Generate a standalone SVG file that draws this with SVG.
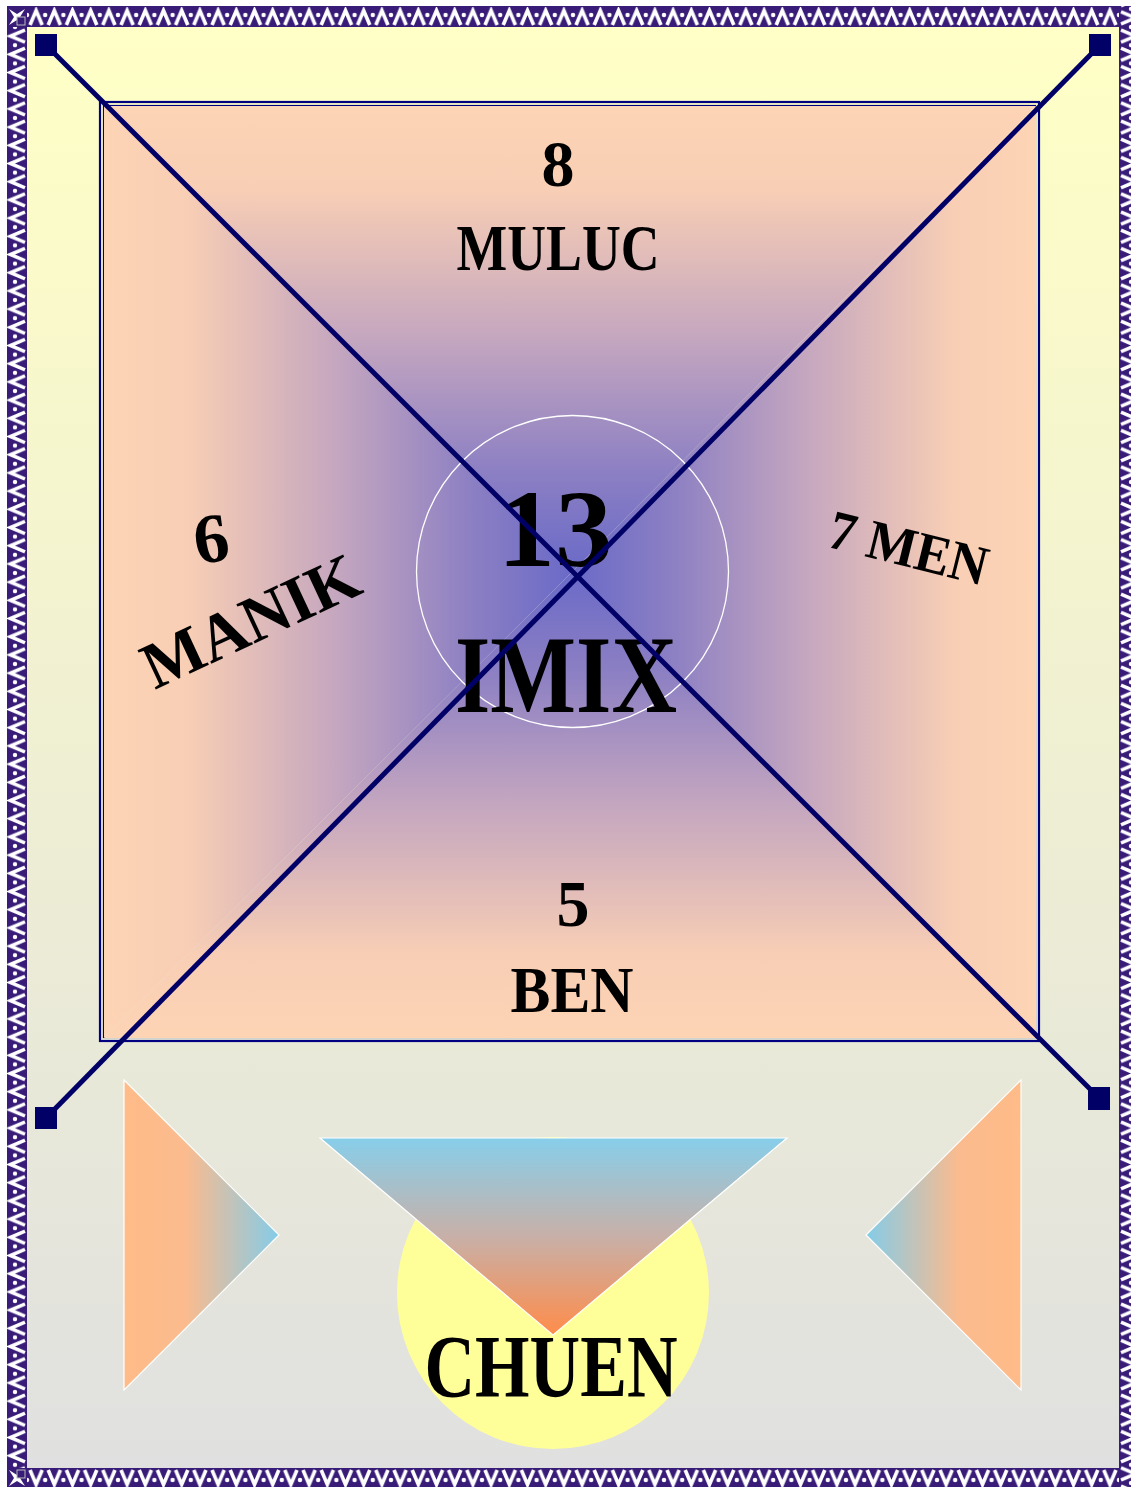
<svg xmlns="http://www.w3.org/2000/svg" width="1131" height="1487" viewBox="0 0 1131 1487">
<defs>
<style>
.t{font-family:"Liberation Serif","DejaVu Serif",serif;font-weight:bold;fill:#000;text-anchor:middle}
.diag{stroke:#000066;stroke-width:5;fill:none}
.end{fill:#000066}
.chev{fill:none;stroke:#fff;stroke-width:3.6;stroke-linejoin:miter}
</style>
<linearGradient id="bg" x1="0" y1="0" x2="0" y2="1">
<stop offset="0" stop-color="#ffffc6"/>
<stop offset="1" stop-color="#e0e0e0"/>
</linearGradient>
<linearGradient id="gTop" gradientUnits="userSpaceOnUse" x1="0" y1="106" x2="0" y2="572">
<stop offset="0" stop-color="#fdd4b4"/>
<stop offset="0.18" stop-color="#f8ceb5"/>
<stop offset="0.5" stop-color="#c4a6bf"/>
<stop offset="0.78" stop-color="#8d80c3"/>
<stop offset="1" stop-color="#6a6ac8"/>
</linearGradient>
<linearGradient id="gBot" gradientUnits="userSpaceOnUse" x1="0" y1="1038" x2="0" y2="572">
<stop offset="0" stop-color="#fdd4b4"/>
<stop offset="0.18" stop-color="#f8ceb5"/>
<stop offset="0.5" stop-color="#c4a6bf"/>
<stop offset="0.78" stop-color="#8d80c3"/>
<stop offset="1" stop-color="#6a6ac8"/>
</linearGradient>
<linearGradient id="gLeft" gradientUnits="userSpaceOnUse" x1="104" y1="0" x2="572" y2="0">
<stop offset="0" stop-color="#fdd4b4"/>
<stop offset="0.18" stop-color="#f8ceb5"/>
<stop offset="0.5" stop-color="#c4a6bf"/>
<stop offset="0.78" stop-color="#8d80c3"/>
<stop offset="1" stop-color="#6a6ac8"/>
</linearGradient>
<linearGradient id="gRight" gradientUnits="userSpaceOnUse" x1="1036" y1="0" x2="572" y2="0">
<stop offset="0" stop-color="#fdd4b4"/>
<stop offset="0.18" stop-color="#f8ceb5"/>
<stop offset="0.5" stop-color="#c4a6bf"/>
<stop offset="0.78" stop-color="#8d80c3"/>
<stop offset="1" stop-color="#6a6ac8"/>
</linearGradient>
<linearGradient id="gInv" x1="0" y1="0" x2="0" y2="1">
<stop offset="0" stop-color="#87ceea"/>
<stop offset="0.5" stop-color="#c8b0a8"/>
<stop offset="1" stop-color="#ff8c4a"/>
</linearGradient>
<linearGradient id="gL" x1="0" y1="0" x2="1" y2="0">
<stop offset="0" stop-color="#ffbb88"/>
<stop offset="0.4" stop-color="#fbbb8e"/>
<stop offset="1" stop-color="#84cce8"/>
</linearGradient>
<linearGradient id="gR" x1="1" y1="0" x2="0" y2="0">
<stop offset="0" stop-color="#ffbb88"/>
<stop offset="0.4" stop-color="#fbbb8e"/>
<stop offset="1" stop-color="#84cce8"/>
</linearGradient>
<pattern id="pTop" patternUnits="userSpaceOnUse" x="27" y="7" width="18.2" height="20">
<rect width="18.2" height="20" fill="#381c78"/>
<polyline class="chev" points="3,18 9.1,3.5 15.2,18"/>
<circle cx="0" cy="8" r="2.2" fill="#fff"/><circle cx="18.2" cy="8" r="2.2" fill="#fff"/>
</pattern>
<pattern id="pBot" patternUnits="userSpaceOnUse" x="27" y="1468" width="18.2" height="20">
<rect width="18.2" height="20" fill="#381c78"/>
<polyline class="chev" points="3,2 9.1,16.5 15.2,2"/>
<circle cx="0" cy="12" r="2.2" fill="#fff"/><circle cx="18.2" cy="12" r="2.2" fill="#fff"/>
</pattern>
<pattern id="pLeft" patternUnits="userSpaceOnUse" x="7" y="27" width="20" height="18.2">
<rect width="20" height="18.2" fill="#381c78"/>
<polyline class="chev" points="18,3 3.5,9.1 18,15.2"/>
<circle cx="8" cy="0" r="2.2" fill="#fff"/><circle cx="8" cy="18.2" r="2.2" fill="#fff"/>
</pattern>
<pattern id="pRight" patternUnits="userSpaceOnUse" x="1119" y="27" width="20" height="18.2">
<rect width="20" height="18.2" fill="#381c78"/>
<polyline class="chev" points="2,3 16.5,9.1 2,15.2"/>
<circle cx="12" cy="0" r="2.2" fill="#fff"/><circle cx="12" cy="18.2" r="2.2" fill="#fff"/>
</pattern>
</defs>

<rect width="1131" height="1487" fill="#fff"/>
<g id="frame">
<rect x="27" y="27" width="1092" height="1441" fill="url(#bg)"/>
<rect x="7" y="6" width="1132" height="21" fill="url(#pTop)"/>
<rect x="7" y="1468" width="1132" height="20" fill="url(#pBot)"/>
<rect x="7" y="6" width="20" height="1482" fill="url(#pLeft)"/>
<rect x="1119" y="6" width="20" height="1482" fill="url(#pRight)"/>
<rect x="7" y="6" width="20" height="21" fill="#381c78"/>
<polygon points="9,9 17,14 25,9 20,17 25,25 17,20 9,25 14,17" fill="#fff"/>
<rect x="17" y="17" width="8" height="8" fill="#381c78" stroke="#bbb" stroke-width="1"/>
<rect x="7" y="1468" width="20" height="19" fill="#381c78"/>
<polygon points="9,1470 17,1475 25,1470 20,1478 25,1486 17,1481 9,1486 14,1478" fill="#fff"/>
<rect x="17" y="1470" width="8" height="8" fill="#381c78" stroke="#bbb" stroke-width="1"/>
</g>

<g id="square">
<rect x="100" y="102" width="939" height="939" fill="none" stroke="#000080" stroke-width="2.2"/>
<rect x="103.5" y="105.5" width="932" height="932" fill="none" stroke="#000080" stroke-width="1.2"/>
<polygon points="104,106 1036,106 572,572" fill="url(#gTop)"/>
<polygon points="104,1038 1036,1038 572,572" fill="url(#gBot)"/>
<polygon points="104,106 104,1038 572,572" fill="url(#gLeft)"/>
<polygon points="1036,106 1036,1038 572,572" fill="url(#gRight)"/>
</g>

<g id="centerCircle">
<circle cx="572.5" cy="571.5" r="156" fill="none" stroke="#fff" stroke-width="1.3"/>
</g>

<g id="bottomShapes">
<circle id="sun" cx="553" cy="1293" r="156" fill="#ffff99"/>
<polygon id="invTri" points="320,1138 787,1138 553,1335" fill="url(#gInv)" stroke="#fff" stroke-width="1.2"/>
<polygon id="leftTri" points="124,1080 124,1390 279,1235" fill="url(#gL)" stroke="#fff" stroke-width="1.2"/>
<polygon id="rightTri" points="1021,1080 1021,1390 866,1235" fill="url(#gR)" stroke="#fff" stroke-width="1.2"/>
</g>

<g id="texts">
<g id="n-muluc">
<text class="t" x="558" y="186" font-size="66">8</text>
<text class="t" x="558" y="270" font-size="66" textLength="203" lengthAdjust="spacingAndGlyphs">MULUC</text>
</g>
<g id="n-imix">
<text class="t" x="555" y="566" font-size="110" textLength="115" lengthAdjust="spacingAndGlyphs">13</text>
<text class="t" x="566" y="712" font-size="110" textLength="222" lengthAdjust="spacingAndGlyphs">IMIX</text>
</g>
<g id="n-manik">
<text class="t" x="212" y="562" font-size="70" transform="rotate(-8 212 545)">6</text>
<text class="t" x="260" y="641" font-size="66" textLength="232" lengthAdjust="spacingAndGlyphs" transform="rotate(-25 260 641)">MANIK</text>
</g>
<g id="n-men">
<text class="t" x="904" y="566" font-size="56" textLength="162" lengthAdjust="spacingAndGlyphs" transform="rotate(14 904 566)">7 MEN</text>
</g>
<g id="n-ben">
<text class="t" x="573" y="926" font-size="66">5</text>
<text class="t" x="572" y="1012" font-size="66" textLength="123" lengthAdjust="spacingAndGlyphs">BEN</text>
</g>
<g id="n-chuen">
<text class="t" x="551" y="1396" font-size="88" textLength="253" lengthAdjust="spacingAndGlyphs">CHUEN</text>
</g>
</g>

<g id="connectors">
<line class="diag" x1="46" y1="45" x2="1099" y2="1098"/>
<line class="diag" x1="1100" y1="45" x2="46" y2="1118"/>
<rect class="end" x="35" y="34" width="22" height="22"/>
<rect class="end" x="1089" y="34" width="22" height="22"/>
<rect class="end" x="35" y="1107" width="22" height="22"/>
<rect class="end" x="1088" y="1087" width="22" height="23"/>
</g>
</svg>
